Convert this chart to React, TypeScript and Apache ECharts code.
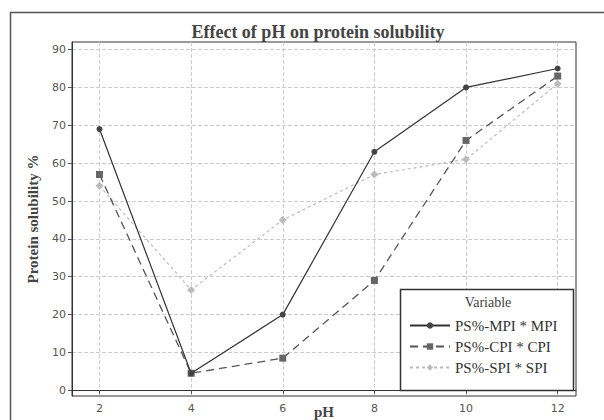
import React, { useEffect, useRef } from "react";
import * as echarts from "echarts";

const phValues = [2, 4, 6, 8, 10, 12];
const mpi = [69, 4.5, 20, 63, 80, 85];
const cpi = [57, 4.5, 8.5, 29, 66, 83];
const spi = [54, 26.5, 45, 57, 61, 81];
const xTicks = [2, 4, 6, 8, 10, 12];
const yTicks = [0, 10, 20, 30, 40, 50, 60, 70, 80, 90];
const seriesNames = ["PS%-MPI * MPI", "PS%-CPI * CPI", "PS%-SPI * SPI"];

const toPairs = (ys: number[]) => phValues.map((x, i) => [x, ys[i]]);

export default function App() {
  const ref = useRef<HTMLDivElement>(null);
  useEffect(() => {
    if (!ref.current) return;
    const chart = echarts.init(ref.current, null, { renderer: "svg" });
    const serif = "'Liberation Serif', 'DejaVu Serif', serif";
    const sans = "'DejaVu Sans', sans-serif";
    chart.setOption({
      animation: false,
      backgroundColor: "#fff",
      title: {
        text: "Effect of pH on protein solubility",
        left: 313,
        textAlign: "center",
        top: 18,
        textStyle: { fontFamily: serif, fontSize: 18, fontWeight: "bold", color: "#444" },
      },
      grid: {
        left: 72,
        right: 28,
        top: 42,
        bottom: 24,
        outerBoundsMode: "none",
        containLabel: false,
        show: true,
        borderColor: "#333",
        borderWidth: 1,
      },
      xAxis: {
        type: "value",
        min: 1.4,
        max: 12.4,
        name: "pH",
        nameLocation: "middle",
        nameGap: 8,
        nameMoveOverlap: false,
        nameTextStyle: { fontFamily: serif, fontSize: 15, fontWeight: "bold", color: "#444", verticalAlign: "top" },
        axisLine: { show: true, lineStyle: { color: "#333" } },
        axisTick: { show: true, customValues: xTicks, length: 4, lineStyle: { color: "#555" } },
        axisLabel: { customValues: xTicks, fontFamily: sans, fontSize: 11, color: "#555", margin: 7 },
        splitLine: { show: true, lineStyle: { color: "#ccc", type: "dashed" } },
      },
      yAxis: {
        type: "value",
        min: -1.5,
        max: 92,
        name: "Protein solubility %",
        nameLocation: "middle",
        nameGap: 32,
        nameMoveOverlap: false,
        nameTextStyle: { fontFamily: serif, fontSize: 15, fontWeight: "bold", color: "#444" },
        axisLine: { show: true, lineStyle: { color: "#333" } },
        axisTick: { show: true, customValues: yTicks, length: 4, lineStyle: { color: "#555" } },
        axisLabel: { customValues: yTicks, fontFamily: sans, fontSize: 11, color: "#555", margin: 6 },
        splitLine: { show: true, lineStyle: { color: "#ccc", type: "dashed" } },
      },
      legend: {
        orient: "vertical",
        left: 404,
        top: 313,
        z: 60,
        itemWidth: 40,
        itemHeight: 8,
        itemGap: 6,
        data: seriesNames,
        textStyle: { fontFamily: serif, fontSize: 15, color: "#333" },
      },
      graphic: [
        {
          type: "rect",
          shape: { x: 10.5, y: 12.5, width: 700, height: 500 },
          style: { fill: "none", stroke: "#555", lineWidth: 1.5 },
          silent: true,
        },
        {
          type: "rect",
          shape: { x: 400.5, y: 289.5, width: 173, height: 101 },
          style: { fill: "#fff", stroke: "#333", lineWidth: 1.5 },
          z: 50,
          silent: true,
        },
        {
          type: "text",
          x: 488,
          y: 302,
          style: {
            text: "Variable",
            fontFamily: serif,
            fontSize: 14,
            fill: "#444",
            align: "center",
            verticalAlign: "middle",
          },
          z: 51,
        },
      ],
      series: [
        {
          name: seriesNames[0],
          type: "line",
          data: toPairs(mpi),
          symbol: "circle",
          symbolSize: 6,
          lineStyle: { color: "#333", width: 1.2, type: "solid" },
          itemStyle: { color: "#444" },
          z: 5,
        },
        {
          name: seriesNames[1],
          type: "line",
          data: toPairs(cpi),
          symbol: "rect",
          symbolSize: 7,
          lineStyle: { color: "#555", width: 1.3, type: [8, 5] },
          itemStyle: { color: "#666" },
          z: 4,
        },
        {
          name: seriesNames[2],
          type: "line",
          data: toPairs(spi),
          symbol: "diamond",
          symbolSize: 8,
          lineStyle: { color: "#bbb", width: 1.2, type: [3, 3] },
          itemStyle: { color: "#bbb" },
          z: 3,
        },
      ],
    });
    return () => chart.dispose();
  }, []);
  return (
    <div
      ref={ref}
      style={{ position: "fixed", left: 0, top: 0, width: 604, height: 420 }}
    />
  );
}
